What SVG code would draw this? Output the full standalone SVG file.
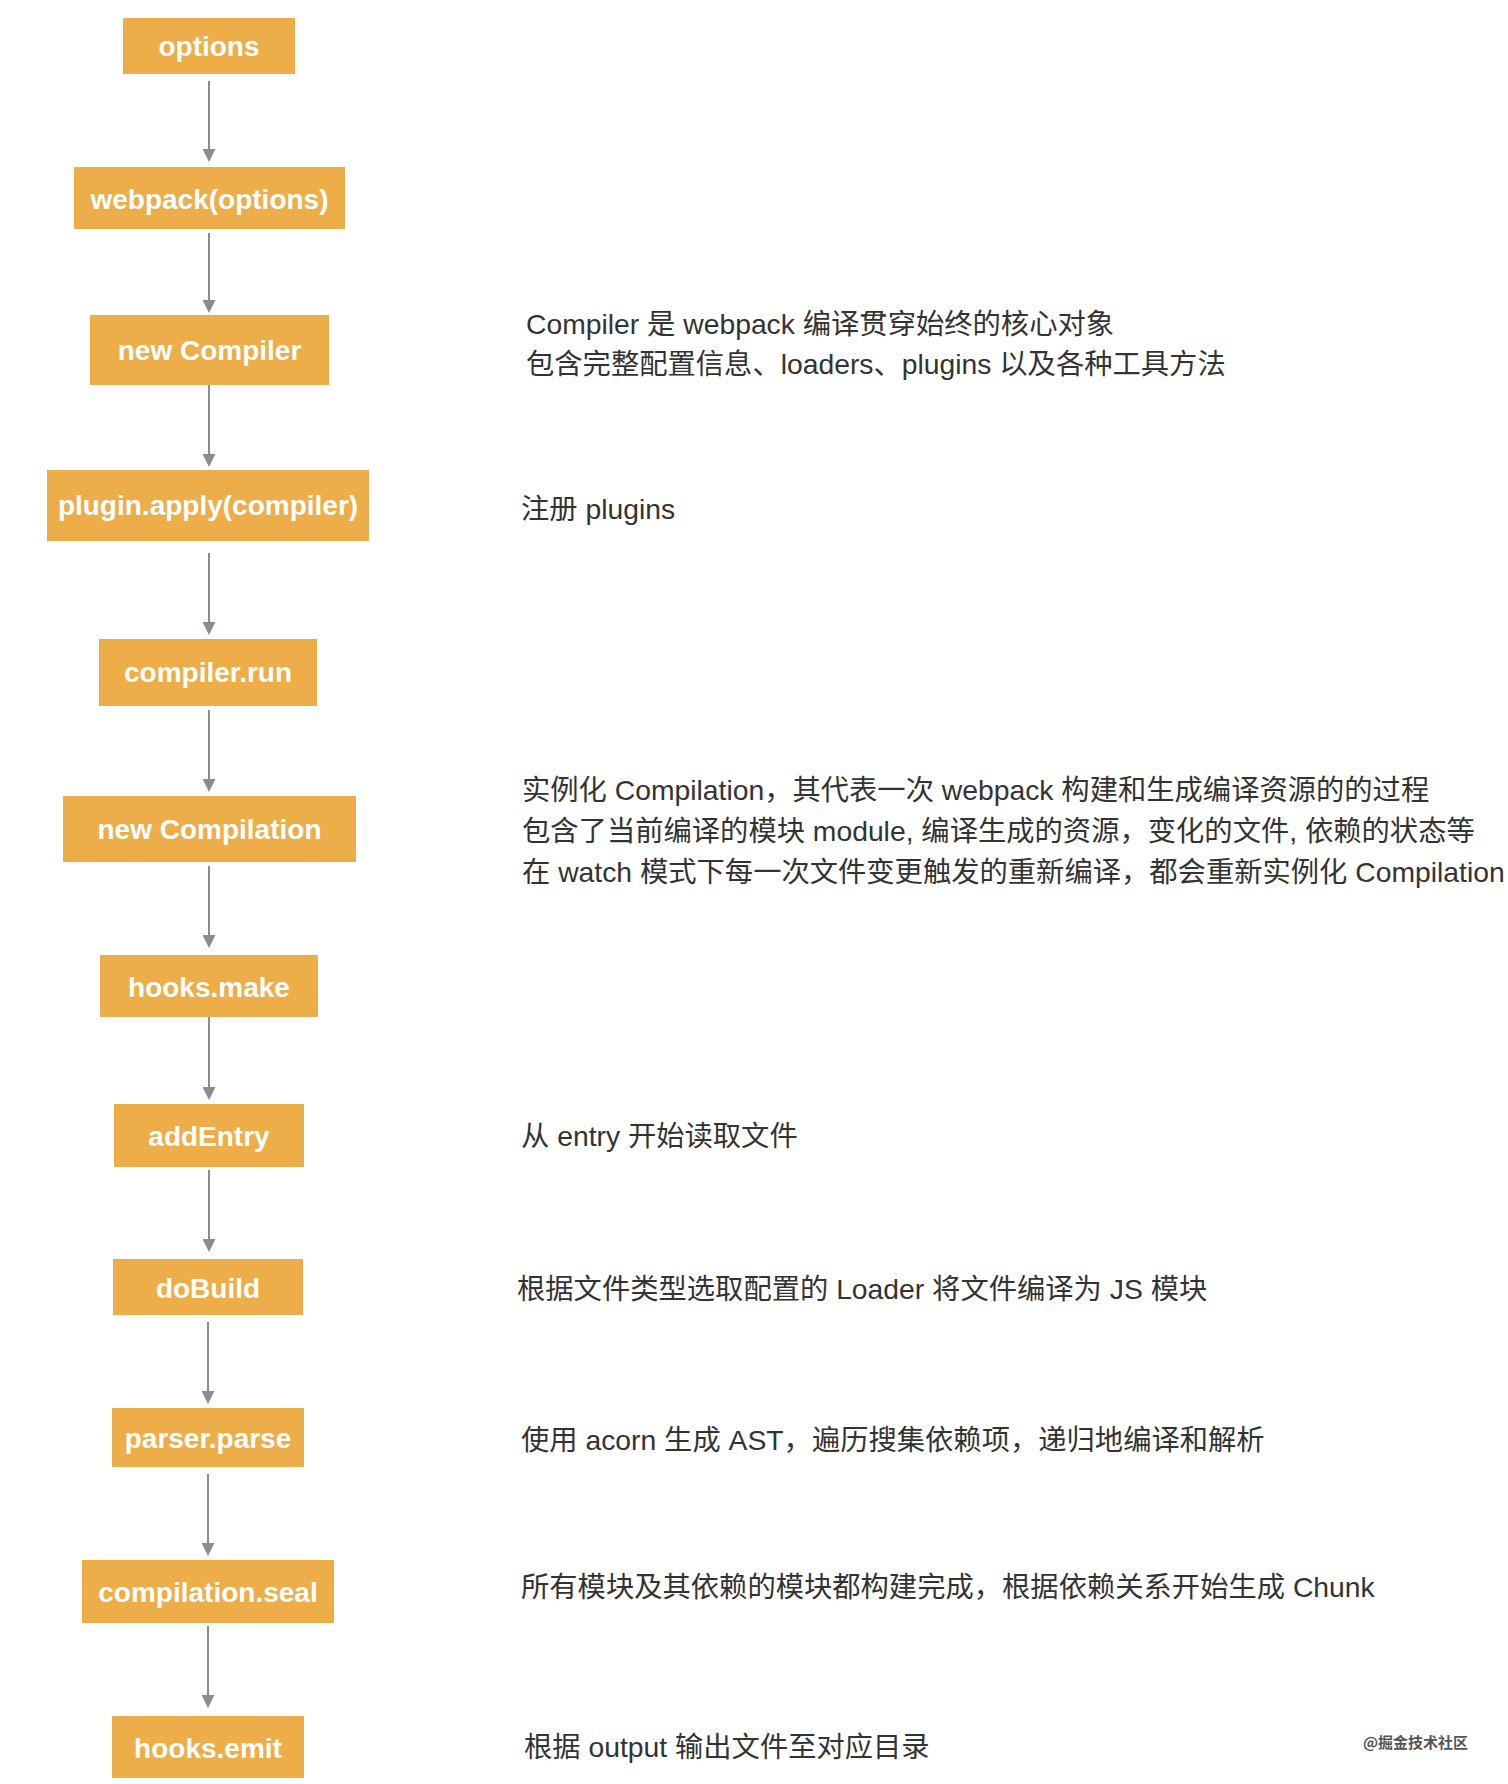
<svg xmlns="http://www.w3.org/2000/svg" width="1508" height="1784" viewBox="0 0 1508 1784">
<style>
.box{fill:#EDAE4A}
.lbl{font-family:"Liberation Sans",Arial,"Noto Sans CJK SC",sans-serif;font-weight:bold;font-size:28px;fill:#FFFFFF;text-anchor:middle}
.desc{font-family:"Liberation Sans",Arial,"Noto Sans CJK SC",sans-serif;font-size:28.3px;fill:#333333}
.edge{stroke:#8C8C8C;stroke-width:2;fill:none}
.wm{font-family:"Noto Sans CJK SC",sans-serif;font-weight:bold;font-size:15px;fill:#555555}
</style>
<defs>
<marker id="arr" markerUnits="userSpaceOnUse" markerWidth="13" markerHeight="13" viewBox="0 0 13 13" refX="5" refY="6.5" orient="auto">
<path d="M0,0 L13,6.5 L0,13 z" fill="#8C8C8C"/>
</marker>
</defs>
<rect width="1508" height="1784" fill="#FFFFFF"/>
<g id="connectors">
<line class="edge" x1="209" y1="81" x2="209" y2="154" marker-end="url(#arr)"/>
<line class="edge" x1="209" y1="233" x2="209" y2="305" marker-end="url(#arr)"/>
<line class="edge" x1="209" y1="385" x2="209" y2="459" marker-end="url(#arr)"/>
<line class="edge" x1="209" y1="553" x2="209" y2="627" marker-end="url(#arr)"/>
<line class="edge" x1="209" y1="710" x2="209" y2="784" marker-end="url(#arr)"/>
<line class="edge" x1="209" y1="866" x2="209" y2="940" marker-end="url(#arr)"/>
<line class="edge" x1="209" y1="1017" x2="209" y2="1092" marker-end="url(#arr)"/>
<line class="edge" x1="209" y1="1170" x2="209" y2="1244" marker-end="url(#arr)"/>
<line class="edge" x1="208" y1="1322" x2="208" y2="1396" marker-end="url(#arr)"/>
<line class="edge" x1="208" y1="1474" x2="208" y2="1548" marker-end="url(#arr)"/>
<line class="edge" x1="208" y1="1626" x2="208" y2="1700" marker-end="url(#arr)"/>
</g>
<g id="node-options"><rect class="box" x="123" y="18" width="172" height="56"/><text class="lbl" x="209" y="56">options</text></g>
<g id="node-webpack"><rect class="box" x="74" y="167" width="271" height="62"/><text class="lbl" x="209.5" y="209">webpack(options)</text></g>
<g id="node-new-compiler"><rect class="box" x="90" y="315" width="239" height="70"/><text class="lbl" x="209.5" y="360">new Compiler</text></g>
<g id="node-plugin-apply"><rect class="box" x="47" y="470" width="322" height="71"/><text class="lbl" x="208" y="515">plugin.apply(compiler)</text></g>
<g id="node-compiler-run"><rect class="box" x="99" y="639" width="218" height="67"/><text class="lbl" x="208" y="682">compiler.run</text></g>
<g id="node-new-compilation"><rect class="box" x="63" y="796" width="293" height="66"/><text class="lbl" x="209.5" y="839">new Compilation</text></g>
<g id="node-hooks-make"><rect class="box" x="100" y="955" width="218" height="62"/><text class="lbl" x="209" y="997">hooks.make</text></g>
<g id="node-addentry"><rect class="box" x="114" y="1104" width="190" height="63"/><text class="lbl" x="209" y="1146">addEntry</text></g>
<g id="node-dobuild"><rect class="box" x="113" y="1259" width="190" height="56"/><text class="lbl" x="208" y="1298">doBuild</text></g>
<g id="node-parser-parse"><rect class="box" x="112" y="1408" width="192" height="59"/><text class="lbl" x="208" y="1448">parser.parse</text></g>
<g id="node-compilation-seal"><rect class="box" x="82" y="1560" width="252" height="63"/><text class="lbl" x="208" y="1602">compilation.seal</text></g>
<g id="node-hooks-emit"><rect class="box" x="112" y="1716" width="192" height="62"/><text class="lbl" x="208" y="1758">hooks.emit</text></g>
<g id="notes">
<text class="desc" x="526" y="334">Compiler 是 webpack 编译贯穿始终的核心对象</text>
<text class="desc" x="526" y="374">包含完整配置信息、loaders、plugins 以及各种工具方法</text>
<text class="desc" x="521" y="519">注册 plugins</text>
<text class="desc" x="522" y="800">实例化 Compilation，其代表一次 webpack 构建和生成编译资源的的过程</text>
<text class="desc" x="522" y="841">包含了当前编译的模块 module, 编译生成的资源，变化的文件, 依赖的状态等</text>
<text class="desc" x="522" y="882">在 watch 模式下每一次文件变更触发的重新编译，都会重新实例化 Compilation</text>
<text class="desc" x="521" y="1146">从 entry 开始读取文件</text>
<text class="desc" x="517" y="1299">根据文件类型选取配置的 Loader 将文件编译为 JS 模块</text>
<text class="desc" x="521" y="1450">使用 acorn 生成 AST，遍历搜集依赖项，递归地编译和解析</text>
<text class="desc" x="521" y="1597">所有模块及其依赖的模块都构建完成，根据依赖关系开始生成 Chunk</text>
<text class="desc" x="524" y="1757">根据 output 输出文件至对应目录</text>
<text class="wm" x="1363" y="1748">@掘金技术社区</text>
</g>
</svg>
